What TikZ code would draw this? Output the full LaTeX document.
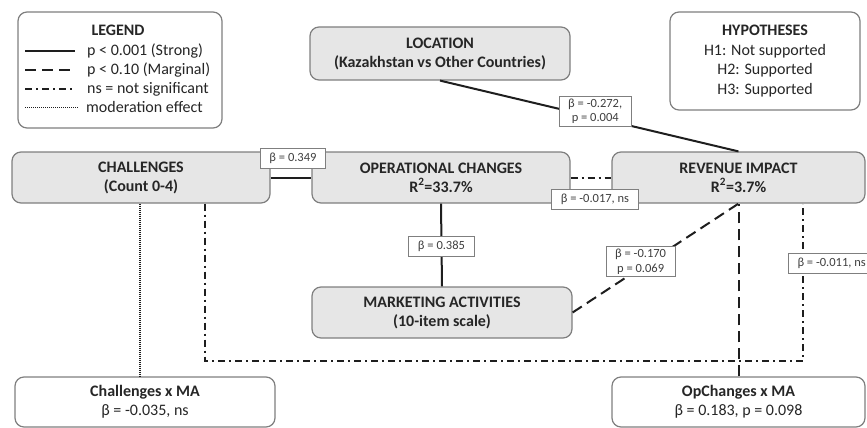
\documentclass[tikz,border=0pt]{standalone}
\usepackage{fontspec}
\setmainfont{Carlito}
\definecolor{boxline}{HTML}{7F7F7F}
\definecolor{boxfill}{HTML}{E6E6E6}
\definecolor{txt}{HTML}{262626}
\definecolor{labtxt}{HTML}{3F3F3F}
\definecolor{edge}{HTML}{1E1E1E}
\begin{document}
\begin{tikzpicture}[x=1pt,y=-1pt,
  box/.style={draw=boxline, fill=boxfill, rounded corners=9pt, line width=1.2pt,
    text=txt, align=center, font=\bfseries\fontsize{16}{19}\selectfont, inner sep=2pt},
  wbox/.style={box, fill=white},
  lab/.style={draw=boxline, fill=white, line width=1pt, solid, text=labtxt,
    font=\fontsize{12.5}{14.5}\selectfont, align=center, inner xsep=9pt, inner ysep=2.5pt,
    minimum height=20pt},
  strong/.style={draw=edge, line width=2pt},
  marg/.style={draw=edge, line width=2pt, dash pattern=on 11pt off 6pt},
  nsl/.style={draw=edge, line width=2pt, dash pattern=on 7pt off 4pt on 2pt off 4pt},
  moder/.style={draw=edge, line width=1.6pt, dash pattern=on 1pt off 1pt},
  legtxt/.style={anchor=west, text=txt, font=\fontsize{16}{19}\selectfont, inner sep=2pt}
]
\useasboundingbox (0,0) rectangle (867,428);

% main nodes
\node[box, minimum width=260pt, minimum height=53pt] (loc) at (440,53.5)
  {LOCATION\\(Kazakhstan vs Other Countries)};
\node[box, minimum width=258pt, minimum height=51pt] (chal) at (141,177.5)
  {CHALLENGES\\(Count 0-4)};
\node[box, minimum width=258pt, minimum height=51pt] (op) at (441,177.5)
  {OPERATIONAL CHANGES\\R\textsuperscript{2}=33.7\%};
\node[box, minimum width=253pt, minimum height=51pt] (rev) at (738.5,177.5)
  {REVENUE IMPACT\\R\textsuperscript{2}=3.7\%};
\node[box, minimum width=260pt, minimum height=51pt] (ma) at (442,312.5)
  {MARKETING ACTIVITIES\\(10-item scale)};
\node[wbox, minimum width=260pt, minimum height=50pt] (chalx) at (145,402)
  {Challenges x MA\\\mdseries β = -0.035, ns};
\node[wbox, minimum width=253pt, minimum height=50pt] (opx) at (738.5,402)
  {OpChanges x MA\\\mdseries β = 0.183, p = 0.098};

% legend
\node[wbox, minimum width=204pt, minimum height=116pt] (legend) at (120,70) {};
\node[text=txt, font=\bfseries\fontsize{16}{19}\selectfont] (legtitle) at (118,30) {LEGEND};
\node[legtxt] (l1) at (85,51) {p < 0.001 (Strong)};
\node[legtxt] (l2) at (85,70) {p < 0.10 (Marginal)};
\node[legtxt] (l3) at (85,89) {ns = not significant};
\node[legtxt] (l4) at (84,107.5) {moderation effect};
\draw[strong] ([xshift=-60pt]l1.west) -- ([xshift=-10pt]l1.west);
\draw[marg] ([xshift=-60pt]l2.west) -- ([xshift=-10pt]l2.west);
\draw[nsl] ([xshift=-60pt]l3.west) -- ([xshift=-10pt]l3.west);
\draw[moder] ([xshift=-59pt]l4.west) -- ([xshift=-6pt]l4.west);

% hypotheses
\node[wbox, minimum width=190pt, minimum height=98pt,
  font=\mdseries\fontsize{16}{19.6}\selectfont] (hyp) at (765,61)
  {\textbf{HYPOTHESES}\\H1: Not supported\\H2: Supported\\H3: Supported};

% connectors
\draw[nsl] ([xshift=64pt]chal.south) -- ++(0,157) -| ([xshift=64.5pt]rev.south);
\node[lab, anchor=west] (l011) at (788,263.5) {β = -0.011, ns};

\draw[moder] (chal.south -| 140,0) -- (chalx.north -| 140,0);
\draw[marg] (opx.north) -- (rev.south);

\draw[strong] (loc.south) -- (rev.north)
  node[lab, pos=0.52, yshift=6pt] (l272) {β = -0.272,\\p = 0.004};
\draw[strong] (chal.east) -- (op.west)
  node[lab, midway, yshift=19.5pt, xshift=2pt] (l349) {β = 0.349};
\draw[nsl] (op.east) -- (rev.west)
  node[lab, midway, yshift=-21.5pt, xshift=4pt] (l017) {β = -0.017, ns};
\draw[strong] (op.south) -- (ma.north)
  node[lab, midway, yshift=-1pt] (l385) {β = 0.385};
\draw[marg] (ma.east) -- (rev.south)
  node[lab, pos=0.41, yshift=6pt] (l170) {β = -0.170\\p = 0.069};
\end{tikzpicture}
\end{document}
